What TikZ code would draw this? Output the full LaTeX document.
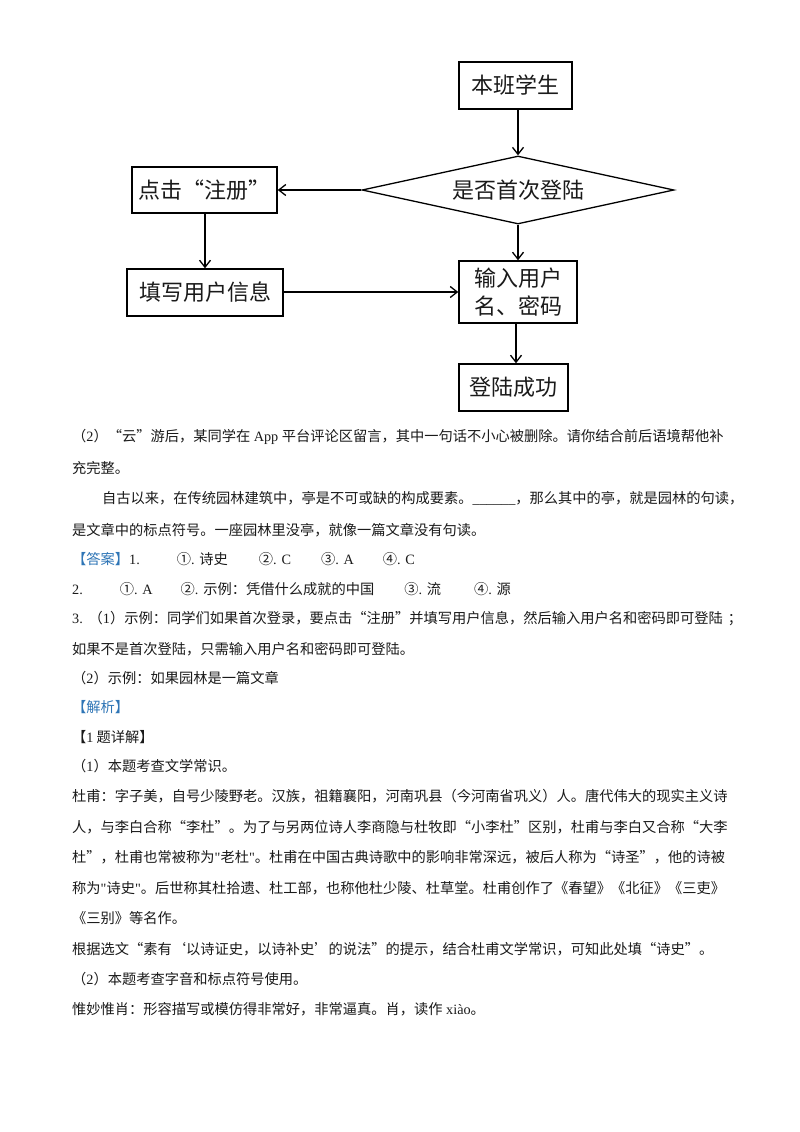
\documentclass[tikz,border=0pt]{standalone}
\usepackage{fontspec}
\setmainfont{Noto Sans CJK SC}
\newfontfamily\latf{Liberation Serif}
\newcommand{\lat}[1]{{\latf #1}}
\usetikzlibrary{shapes.geometric,arrows.meta}
\definecolor{ansblue}{HTML}{2E75B6}
\definecolor{inkc}{HTML}{1A1A1A}
\tikzset{
  flowbox/.style={draw=black,line width=1.5pt,fill=white,inner sep=0pt,font=\fontsize{22}{28}\selectfont,align=center,text=inkc},
  flowdia/.style={draw=black,line width=1.3pt,shape=diamond,inner sep=0pt,aspect=4.6,minimum width=312pt,minimum height=68pt,font=\fontsize{22}{28}\selectfont,text=inkc},
  flowline/.style={line width=1.6pt,-{Straight Barb[length=7pt,width=11pt,line width=1.3pt]}},
  txt/.style={anchor=west,inner sep=0pt,font=\fontsize{14.25}{16}\selectfont,text=inkc},
}
\begin{document}
\begin{tikzpicture}[x=1pt,y=-1pt]
\useasboundingbox[fill=white] (0,0) rectangle (800,1132);
% flow chart
\node[flowbox,minimum width=113pt,minimum height=47pt] (stu) at (515.5,85.5) {本班学生};
\node[flowdia] (first) at (518,190) {是否首次登陆};
\node[flowbox,minimum width=145pt,minimum height=46pt] (reg) at (204.5,190) {点击“注册”};
\node[flowbox,minimum width=156pt,minimum height=47pt] (fill) at (205,292.5) {填写用户信息};
\node[flowbox,minimum width=118pt,minimum height=62pt] (inp) at (518,292) {输入用户\\名、密码};
\node[flowbox,minimum width=109pt,minimum height=47pt] (ok) at (513.5,387.5) {登陆成功};
\coordinate (cA) at (518,0);
\coordinate (cB) at (516,0);
\coordinate (cC) at (205,0);
\draw[flowline] (cA |- stu.south) -- (first.north);
\draw[flowline] (first.west) -- (reg.east);
\draw[flowline] (first.south) -- (cA |- inp.north);
\draw[flowline] (cC |- reg.south) -- (cC |- fill.north);
\draw[flowline] (fill.east |- inp.west) -- (inp.west);
\draw[flowline] (cB |- inp.south) -- (cB |- ok.north);
% text
\node[txt] (t01) at (72,437) {（\lat{2}）“云”游后，某同学在\hspace{3.5pt}\lat{App}\hspace{3.5pt}平台评论区留言，其中一句话不小心被删除。请你结合前后语境帮他补};
\node[txt] (t02) at (72,468) {充完整。};
\node[txt] (t03) at (102,498) {自古以来，在传统园林建筑中，亭是不可或缺的构成要素。\lat{\_\_\_\_\_\_}，那么其中的亭，就是园林的句读，};
\node[txt] (t04) at (72,530) {是文章中的标点符号。一座园林里没亭，就像一篇文章没有句读。};
\node[txt] (t05) at (72,559) {\textcolor{ansblue}{【答案】}\lat{1.}\hspace{37pt}①\lat{. }诗史\hspace{31pt}②\lat{. C}\hspace{30pt}③\lat{. A}\hspace{29pt}④\lat{. C}};
\node[txt] (t06) at (72,589) {\lat{2.}\hspace{37pt}①\lat{. A}\hspace{28pt}②\lat{. }示例：凭借什么成就的中国\hspace{30pt}③\lat{. }流\hspace{33pt}④\lat{. }源};
\node[txt] (t07) at (72,619) {\lat{3. }\hspace{1pt}（\lat{1}）示例：同学们如果首次登录，要点击“注册”并填写用户信息，然后输入用户名和密码即可登陆\hspace{5pt}；};
\node[txt] (t08) at (72,649) {如果不是首次登陆，只需输入用户名和密码即可登陆。};
\node[txt] (t09) at (72,678) {（\lat{2}）示例：如果园林是一篇文章};
\node[txt] (t10) at (72,707) {\textcolor{ansblue}{【解析】}};
\node[txt] (t11) at (72,737) {【\lat{1}\hspace{3pt}题详解】};
\node[txt] (t12) at (72,766) {（\lat{1}）本题考查文学常识。};
\node[txt] (t13) at (72,796) {杜甫：字子美，自号少陵野老。汉族，祖籍襄阳，河南巩县（今河南省巩义）人。唐代伟大的现实主义诗};
\node[txt] (t14) at (72,827) {人，与李白合称“李杜”。为了与另两位诗人李商隐与杜牧即“小李杜”区别，杜甫与李白又合称“大李};
\node[txt] (t15) at (72,857) {杜”，杜甫也常被称为\lat{"}老杜\lat{"}。杜甫在中国古典诗歌中的影响非常深远，被后人称为“诗圣”，他的诗被};
\node[txt] (t16) at (72,888) {称为\lat{"}诗史\lat{"}。后世称其杜拾遗、杜工部，也称他杜少陵、杜草堂。杜甫创作了《春望》《北征》《三吏》};
\node[txt] (t17) at (72,918) {《三别》等名作。};
\node[txt] (t18) at (72,949) {根据选文“素有‘以诗证史，以诗补史’的说法”的提示，结合杜甫文学常识，可知此处填“诗史”。};
\node[txt] (t19) at (72,979) {（\lat{2}）本题考查字音和标点符号使用。};
\node[txt] (t20) at (72,1009) {惟妙惟肖：形容描写或模仿得非常好，非常逼真。肖，读作\hspace{3.5pt}\lat{xiào}。};
\end{tikzpicture}
\end{document}
